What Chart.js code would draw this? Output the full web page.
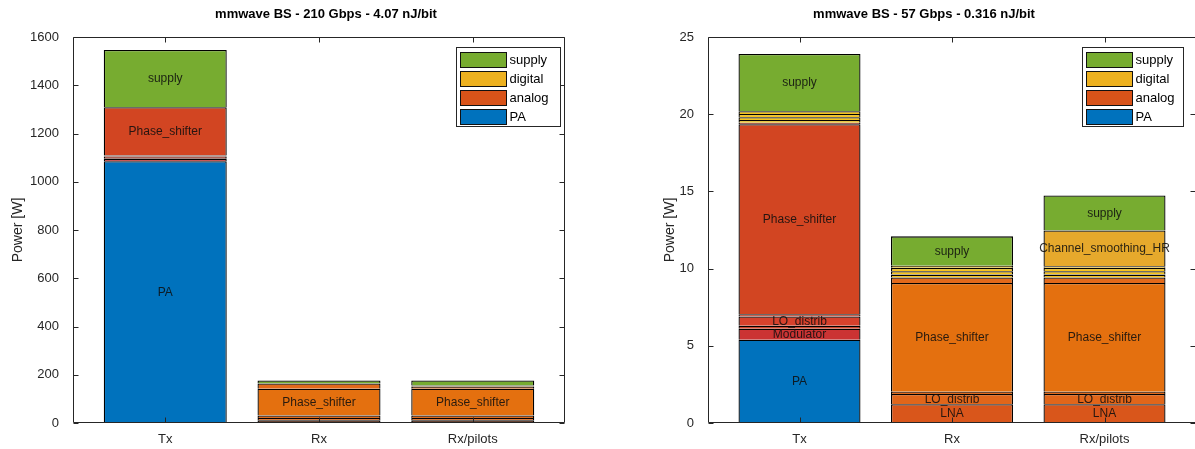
<!DOCTYPE html>
<html>
<head>
<meta charset="utf-8">
<title>mmwave BS power breakdown</title>
<script src="https://cdn.jsdelivr.net/npm/chart.js@4/dist/chart.umd.min.js"></script>
<style>
  html, body { margin: 0; padding: 0; background: #fff; overflow: hidden; width: 1195px; height: 449px; }
  canvas { position: absolute; top: 0; }
  #c210 { left: 0; }
  #c57 { left: 652px; }
</style>
</head>
<body>
<canvas id="c210" width="652" height="449"></canvas>
<canvas id="c57" width="544" height="449"></canvas>
<script>
// ---- data ----
const categories = ['Tx', 'Rx', 'Rx/pilots'];
const legendGroups = ['supply', 'digital', 'analog', 'PA'];

const title210 = 'mmwave BS - 210 Gbps - 4.07 nJ/bit';
const title57 = 'mmwave BS - 57 Gbps - 0.316 nJ/bit';
const yTicks210 = [0, 200, 400, 600, 800, 1000, 1200, 1400, 1600];
const yTicks57 = [0, 5, 10, 15, 20, 25];

// 210 Gbps configuration, power per block [W], stacked bottom to top
const tx210Parts = ['PA', 'Modulator', 'analog_1', 'LO_distrib', 'analog_2', 'Phase_shifter', 'supply'];
const tx210Power = [1085, 9, 3, 8, 4, 200, 237];
const rx210Parts = ['LNA', 'LO_distrib', 'analog_1', 'Phase_shifter', 'analog_2', 'supply'];
const rx210Power = [11, 10, 10, 111, 22, 12];
const rxp210Parts = ['LNA', 'LO_distrib', 'analog_1', 'Phase_shifter', 'analog_2', 'Channel_smoothing_HR', 'supply'];
const rxp210Power = [11, 10, 10, 111, 9, 4, 21];

// 57 Gbps configuration, power per block [W]
const tx57Parts = ['PA', 'Modulator', 'analog_1', 'LO_distrib', 'analog_2', 'Phase_shifter', 'analog_3', 'digital_1', 'digital_2', 'digital_3', 'digital_4', 'supply'];
const tx57Power = [5.39, 0.72, 0.19, 0.60, 0.15, 12.30, 0.10, 0.18, 0.18, 0.20, 0.18, 3.71];
const rx57Parts = ['LNA', 'LO_distrib', 'analog_1', 'Phase_shifter', 'analog_2', 'digital_1', 'digital_2', 'digital_3', 'digital_4', 'supply'];
const rx57Power = [1.21, 0.67, 0.15, 7.04, 0.36, 0.18, 0.22, 0.22, 0.14, 1.90];
const rxp57Parts = ['LNA', 'LO_distrib', 'analog_1', 'Phase_shifter', 'analog_2', 'digital_1', 'digital_2', 'digital_3', 'digital_4', 'Channel_smoothing_HR', 'supply'];
const rxp57Power = [1.21, 0.67, 0.15, 7.04, 0.36, 0.18, 0.22, 0.22, 0.10, 2.32, 2.27];

// ---- styling ----
const FONT = "'Liberation Sans', Arial, Helvetica, sans-serif";
const AXIS_COLOR = '#262626';
const groupColors = { supply: '#77AC30', digital: '#EDB120', analog: '#D95319', PA: '#0072BD' };
const partColors = {
  PA: '#0072BD',
  supply: '#77AC30',
  Channel_smoothing_HR: '#E6A92C',
  digital: '#F6C31A',
  'Tx:Phase_shifter': '#D24522',
  'Tx:LO_distrib': '#D6412C',
  'Tx:Modulator': '#CB3333',
  'Tx:analog': '#C9412A',
  'Rx:Phase_shifter': '#E4700F',
  'Rx:LO_distrib': '#E1661A',
  'Rx:LNA': '#D9561B',
  'Rx:analog': '#E2691A'
};

function groupOf(name) {
  if (name === 'PA' || name === 'supply') return name;
  if (name.startsWith('digital') || name === 'Channel_smoothing_HR') return 'digital';
  return 'analog';
}

function colorOf(barIndex, name) {
  const side = barIndex === 0 ? 'Tx' : 'Rx';
  const g = groupOf(name);
  return partColors[side + ':' + name] || partColors[name] ||
    (g === 'analog' ? partColors[side + ':analog'] : partColors[g]) || groupColors[g];
}

// One dataset per stack level; each bar contributes its k-th block to dataset k.
function buildDatasets(bars) {
  const levels = Math.max(...bars.map(b => b.power.length));
  const sets = [];
  for (let k = 0; k < levels; k++) {
    const data = [], colors = [], names = [];
    bars.forEach((b, i) => {
      if (k < b.power.length) {
        data.push({ x: i + 1, y: b.power[k] });
        colors.push(colorOf(i, b.parts[k]));
        names.push(b.parts[k]);
      }
    });
    sets.push({
      data,
      backgroundColor: colors,
      borderColor: '#000',
      borderWidth: 1.3,
      partNames: names
    });
  }
  return sets;
}

// Bold title centred at a fixed horizontal position of the canvas
const axesTitlePlugin = {
  id: 'axesTitle',
  afterDraw(chart, args, opts) {
    const { ctx } = chart;
    ctx.save();
    ctx.font = 'bold 13px ' + FONT;
    ctx.fillStyle = '#000';
    ctx.textAlign = 'center';
    ctx.textBaseline = 'middle';
    ctx.fillText(opts.text, opts.centerX, opts.y);
    ctx.restore();
  }
};

// Axes box with inward tick marks on all four sides
const framePlugin = {
  id: 'frame',
  afterDraw(chart) {
    const { ctx, chartArea: a, scales: { x, y } } = chart;
    const L = Math.round(a.left) + 0.5, R = Math.round(a.right) - 0.5;
    const T = Math.round(a.top) + 0.5, B = Math.round(a.bottom) - 0.5;
    const len = 5;
    ctx.save();
    ctx.strokeStyle = AXIS_COLOR;
    ctx.lineWidth = 1;
    ctx.beginPath();
    ctx.rect(L, T, R - L, B - T);
    y.ticks.forEach(t => {
      const py = Math.round(y.getPixelForValue(t.value)) + 0.5;
      ctx.moveTo(L, py); ctx.lineTo(L + len, py);
      ctx.moveTo(R, py); ctx.lineTo(R - len, py);
    });
    x.ticks.forEach(t => {
      const px = Math.round(x.getPixelForValue(t.value)) + 0.5;
      ctx.moveTo(px, B); ctx.lineTo(px, B - len);
      ctx.moveTo(px, T); ctx.lineTo(px, T + len);
    });
    ctx.stroke();
    ctx.restore();
  }
};

// Block names written inside the larger blocks
const partLabelPlugin = {
  id: 'partLabels',
  afterDatasetsDraw(chart, args, opts) {
    const { ctx } = chart;
    let tallest = 0;
    const totals = {};
    chart.data.datasets.forEach(ds => ds.data.forEach(p => {
      totals[p.x] = (totals[p.x] || 0) + p.y;
      tallest = Math.max(tallest, totals[p.x]);
    }));
    const minShown = tallest * opts.minFraction;
    ctx.save();
    ctx.font = '12px ' + FONT;
    ctx.fillStyle = 'rgba(15,15,15,0.88)';
    ctx.textAlign = 'center';
    ctx.textBaseline = 'middle';
    chart.data.datasets.forEach((ds, di) => {
      const meta = chart.getDatasetMeta(di);
      meta.data.forEach((el, j) => {
        if (ds.data[j].y < minShown) return;
        const p = el.getProps(['x', 'y', 'base'], true);
        ctx.fillText(ds.partNames[j], p.x, (p.y + p.base) / 2 + 0.5);
      });
    });
    ctx.restore();
  }
};

// Group legend in the upper right corner of the axes
const groupLegendPlugin = {
  id: 'groupLegend',
  afterDraw(chart, args, opts) {
    const { ctx, chartArea: a } = chart;
    const rowH = 19, sw = 46, swH = 15;
    ctx.save();
    ctx.font = '13px ' + FONT;
    const textW = Math.max(...legendGroups.map(g => ctx.measureText(g).width));
    const w = Math.round(4 + sw + 3 + textW + opts.padRight);
    const h = rowH * legendGroups.length + 3;
    const bx = Math.round(a.right - opts.insetRight - w) + 0.5;
    const by = Math.round(a.top + opts.insetTop) + 0.5;
    ctx.fillStyle = '#fff';
    ctx.fillRect(bx, by, w, h);
    ctx.strokeStyle = AXIS_COLOR;
    ctx.lineWidth = 1;
    ctx.strokeRect(bx, by, w, h);
    legendGroups.forEach((g, i) => {
      const cy = by + 2 + rowH * i + rowH / 2;
      const sx = bx + 4, sy = Math.round(cy - swH / 2) + 0.5;
      ctx.fillStyle = groupColors[g];
      ctx.fillRect(sx, sy, sw, swH);
      ctx.strokeStyle = '#111';
      ctx.strokeRect(sx, sy, sw, swH);
      ctx.fillStyle = '#000';
      ctx.textAlign = 'left';
      ctx.textBaseline = 'middle';
      ctx.fillText(g, sx + sw + 3, cy + 1);
    });
    ctx.restore();
  }
};

function makeChart(id, cfg) {
  const bars = cfg.bars;
  return new Chart(document.getElementById(id), {
    type: 'bar',
    data: { datasets: buildDatasets(bars) },
    options: {
      responsive: false,
      animation: false,
      devicePixelRatio: 1,
      layout: { padding: { left: 0, right: cfg.padRight, top: 37, bottom: 0 } },
      datasets: { bar: { barPercentage: 0.8, categoryPercentage: 1.0 } },
      scales: {
        x: {
          type: 'linear',
          stacked: true,
          offset: false,
          min: 0.4,
          max: 3.6,
          grid: { display: false },
          border: { display: false },
          afterBuildTicks: s => { s.ticks = categories.map((c, i) => ({ value: i + 1 })); },
          afterFit: s => { s.height = 26; },
          ticks: {
            autoSkip: false,
            maxRotation: 0,
            padding: 1,
            color: AXIS_COLOR,
            font: { family: FONT, size: 13 },
            callback: v => categories[v - 1]
          }
        },
        y: {
          stacked: true,
          min: cfg.yTicks[0],
          max: cfg.yTicks[cfg.yTicks.length - 1],
          grid: { display: false },
          border: { display: false },
          afterBuildTicks: s => { s.ticks = cfg.yTicks.map(v => ({ value: v })); },
          afterFit: s => { s.width = cfg.yAxisWidth; },
          ticks: {
            padding: 6,
            color: AXIS_COLOR,
            font: { family: FONT, size: 13 },
            callback: v => String(v)
          },
          title: {
            display: true,
            text: 'Power [W]',
            color: AXIS_COLOR,
            font: { family: FONT, size: 14 },
            padding: { top: 10, bottom: 0 }
          }
        }
      },
      plugins: {
        legend: { display: false },
        tooltip: { enabled: false },
        title: { display: false },
        axesTitle: { text: cfg.title, centerX: cfg.titleX, y: 14 },
        partLabels: { minFraction: 0.02 },
        groupLegend: { insetRight: cfg.legendInset, insetTop: 10, padRight: cfg.legendPad }
      }
    },
    plugins: [partLabelPlugin, framePlugin, groupLegendPlugin, axesTitlePlugin]
  });
}

makeChart('c210', {
  title: title210,
  titleX: 326,
  yTicks: yTicks210,
  yAxisWidth: 73,
  padRight: 87,
  legendInset: 5,
  legendPad: 12,
  bars: [
    { parts: tx210Parts, power: tx210Power },
    { parts: rx210Parts, power: rx210Power },
    { parts: rxp210Parts, power: rxp210Power }
  ]
});

makeChart('c57', {
  title: title57,
  titleX: 272,
  yTicks: yTicks57,
  yAxisWidth: 56,
  padRight: 0,
  legendInset: 13,
  legendPad: 9,
  bars: [
    { parts: tx57Parts, power: tx57Power },
    { parts: rx57Parts, power: rx57Power },
    { parts: rxp57Parts, power: rxp57Power }
  ]
});
</script>
</body>
</html>
